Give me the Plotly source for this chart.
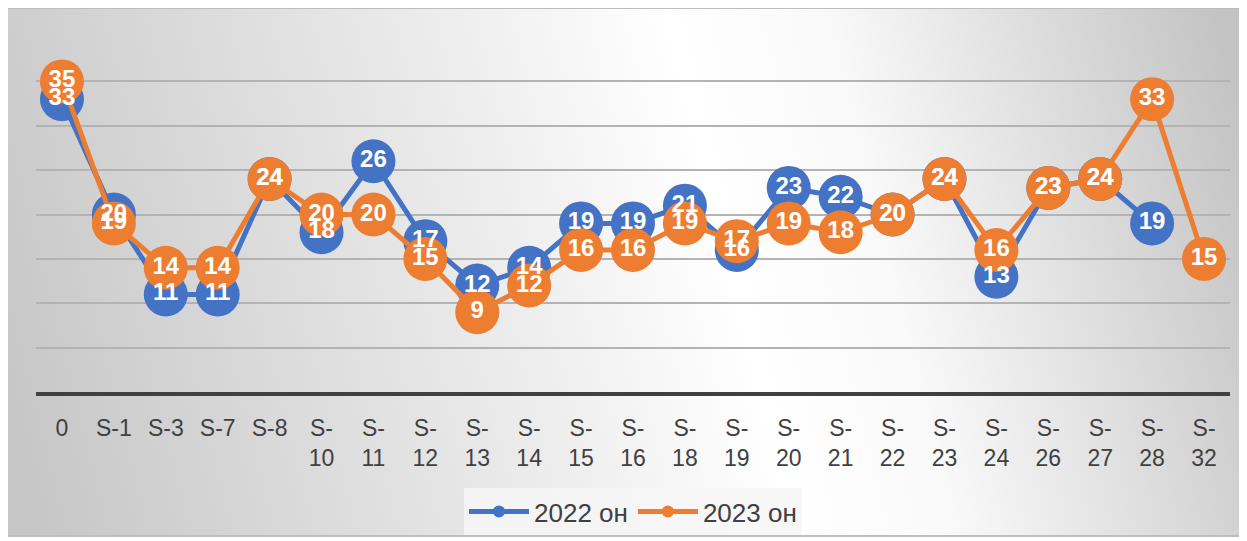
import base64
import plotly.graph_objects as go

categories = ["0", "S-1", "S-3", "S-7", "S-8", "S-10", "S-11", "S-12", "S-13", "S-14", "S-15",
              "S-16", "S-18", "S-19", "S-20", "S-21", "S-22", "S-23", "S-24", "S-26", "S-27",
              "S-28", "S-32"]
tick_labels = ["0", "S-1", "S-3", "S-7", "S-8", "S-<br>10", "S-<br>11", "S-<br>12", "S-<br>13",
               "S-<br>14", "S-<br>15", "S-<br>16", "S-<br>18", "S-<br>19", "S-<br>20", "S-<br>21",
               "S-<br>22", "S-<br>23", "S-<br>24", "S-<br>26", "S-<br>27", "S-<br>28", "S-<br>32"]
values_2022 = [33, 20, 11, 11, 24, 18, 26, 17, 12, 14, 19, 19, 21, 16, 23, 22, 20, 24, 13, 23, 24, 19, None]
values_2023 = [35, 19, 14, 14, 24, 20, 20, 15, 9, 12, 16, 16, 19, 17, 19, 18, 20, 24, 16, 23, 24, 33, 15]
series_names = ["2022 он", "2023 он"]

BLUE = "#4472C4"
ORANGE = "#ED7D31"
W, H = 1247, 541
OFF = 8  # page body margin
PX0, PX1, PY0, PY1 = 36, 1230, 37, 392
ML, MT = PX0 - OFF, PY0 - OFF
PW, PH = PX1 - PX0, PY1 - PY0
MR, MB = W - ML - PW, H - MT - PH

svg = '''<svg xmlns="http://www.w3.org/2000/svg" width="1241" height="530" viewBox="0 0 1241 530">
<defs><linearGradient id="g" gradientUnits="userSpaceOnUse" x1="0" y1="420" x2="1241" y2="110">
<stop offset="0" stop-color="#c6c6c6"/>
<stop offset="0.42" stop-color="#eeeeee"/>
<stop offset="0.58" stop-color="#ffffff"/>
<stop offset="0.70" stop-color="#f9f9f9"/>
<stop offset="1" stop-color="#c3c3c3"/>
</linearGradient></defs>
<rect x="0" y="0" width="1241" height="530" fill="url(#g)"/>
<rect x="1" y="1" width="1239" height="528" fill="none" stroke="#bdbdbd" stroke-width="2"/>
</svg>'''
src = "data:image/svg+xml;base64," + base64.b64encode(svg.encode()).decode()

fig = go.Figure()
for name, vals, col in [(series_names[0], values_2022, BLUE), (series_names[1], values_2023, ORANGE)]:
    fig.add_trace(go.Scatter(
        x=categories, y=vals, name=name, mode="lines+markers",
        line=dict(color=col, width=5),
        marker=dict(color=col, size=44),
        connectgaps=False, hoverinfo="skip",
    ))
for vals in [values_2022, values_2023]:
    fig.add_trace(go.Scatter(
        x=categories, y=vals, mode="text", showlegend=False,
        text=[("" if v is None else str(v)) for v in vals],
        textposition="middle center",
        textfont=dict(family="Liberation Sans, Arial", size=24, color="white", weight="bold"),
        hoverinfo="skip",
    ))

fig.update_layout(
    width=W, height=H,
    margin=dict(l=ML, r=MR, t=MT, b=MB),
    paper_bgcolor="white",
    plot_bgcolor="rgba(0,0,0,0)",
    font=dict(family="Liberation Sans, Arial", color="#404040"),
    showlegend=True,
    legend=dict(
        orientation="h", x=(633 - PX0) / PW, xanchor="center",
        y=(PY1 - 488) / PH, yanchor="top",
        bgcolor="rgba(246,246,246,0.85)",
        font=dict(size=26, color="#404040"),
        itemsizing="constant", itemwidth=60,
    ),
    images=[dict(
        source=src, xref="paper", yref="paper",
        x=(6 - PX0) / PW, y=(PY1 - 7) / PH,
        sizex=1241 / PW, sizey=530 / PH,
        xanchor="left", yanchor="top", sizing="stretch", layer="below",
    )],
)
fig.update_xaxes(
    type="category", categoryorder="array", categoryarray=categories,
    tickvals=categories, ticktext=tick_labels,
    range=[-0.5, len(categories) - 0.5],
    showgrid=False, showline=True, linecolor="#404040", linewidth=4,
    ticks="", tickfont=dict(size=23, color="#404040"),
    ticklabelstandoff=12,
    zeroline=False,
)
fig.update_yaxes(
    range=[0, 40], dtick=5, showticklabels=False,
    showgrid=True, gridcolor="#b3b3b3", gridwidth=1.5,
    zeroline=False, showline=False,
)

fig.write_html("out.html")
